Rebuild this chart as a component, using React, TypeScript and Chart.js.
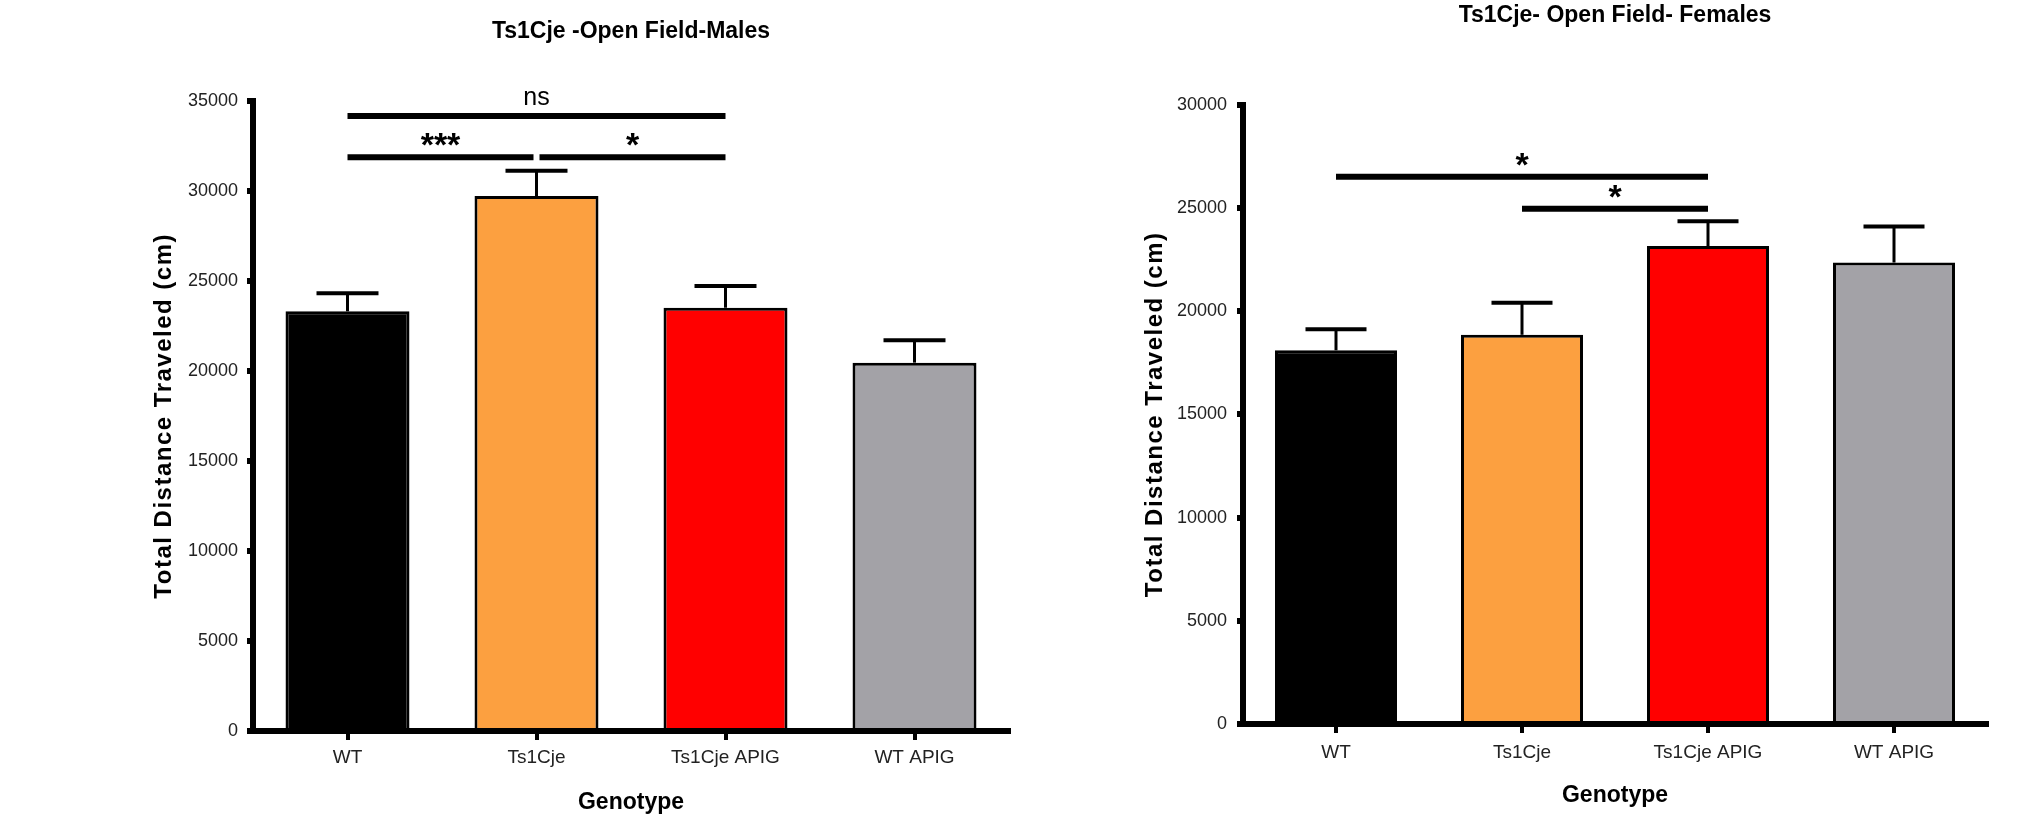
import React, { useEffect, useRef } from 'react';
import { Chart, registerables } from 'chart.js';

Chart.register(...registerables);

// ---------- data ----------
const categories = ['WT', 'Ts1Cje', 'Ts1Cje APIG', 'WT APIG'];
const barColors = ['#000000', '#FCA040', '#FF0000', '#A3A2A7'];

const malesTitle = 'Ts1Cje -Open Field-Males';
const malesMean = [23300, 29700, 23500, 20450];
const malesSem = [1000, 1400, 1200, 1250];
const malesTicksMax = 35000;
const malesSigFrom = [0, 0, 1];
const malesSigTo = [2, 1, 2];
const malesSigY = [34150, 31850, 31850];
const malesSigLabel = ['ns', '***', '*'];

const femalesTitle = 'Ts1Cje- Open Field- Females';
const femalesMean = [18100, 18850, 23150, 22350];
const femalesSem = [1020, 1550, 1200, 1750];
const femalesTicksMax = 30000;
const femalesSigFrom = [0, 1];
const femalesSigTo = [2, 2];
const femalesSigY = [26500, 24950];
const femalesSigLabel = ['*', '*'];

const yTickStep = 5000;
const xAxisTitle = 'Genotype';
const yAxisTitle = 'Total Distance Traveled (cm)';

const FONT = "'Liberation Sans', Arial, Helvetica, sans-serif";

// ---------- plugins ----------
const yTitleSpacingPlugin = {
  id: 'yTitleSpacing',
  beforeDraw(chart: any) {
    const s = chart.scales.y;
    if (!s || s.__spaced) return;
    const orig = s.drawTitle;
    s.drawTitle = function () {
      const ctx = this.ctx;
      ctx.save();
      try {
        (ctx as any).letterSpacing = '1.5px';
      } catch (e) {
        /* ignore */
      }
      orig.call(this);
      ctx.restore();
    };
    s.__spaced = true;
  },
};

const errorBarPlugin = {
  id: 'errorBars',
  afterDatasetsDraw(chart: any, _args: any, opts: any) {
    const errs: number[] = opts.errors || [];
    const ds = chart.data.datasets[0];
    const meta = chart.getDatasetMeta(0);
    const xs = chart.scales.x;
    const ys = chart.scales.y;
    const ctx = chart.ctx;
    ctx.save();
    ctx.strokeStyle = '#000';
    meta.data.forEach((bar: any, i: number) => {
      const cx = xs.getPixelForValue(i);
      const yTop = ys.getPixelForValue(ds.data[i]);
      const yCap = ys.getPixelForValue(ds.data[i] + errs[i]);
      const half = bar.width * 0.25;
      ctx.lineWidth = 3;
      ctx.beginPath();
      ctx.moveTo(cx, yTop);
      ctx.lineTo(cx, yCap);
      ctx.stroke();
      ctx.lineWidth = 4;
      ctx.beginPath();
      ctx.moveTo(cx - half, yCap);
      ctx.lineTo(cx + half, yCap);
      ctx.stroke();
    });
    ctx.restore();
  },
};

const sigPlugin = {
  id: 'sigLines',
  afterDatasetsDraw(chart: any, _args: any, opts: any) {
    const lines: any[] = opts.lines || [];
    const xs = chart.scales.x;
    const ys = chart.scales.y;
    const ctx = chart.ctx;
    const lw = 6;
    ctx.save();
    ctx.fillStyle = '#000';
    ctx.strokeStyle = '#000';
    lines.forEach((ln: any) => {
      let x1 = xs.getPixelForValue(ln.from);
      let x2 = xs.getPixelForValue(ln.to);
      const y = ys.getPixelForValue(ln.y);
      // leave a small gap where two lines at the same height meet
      lines.forEach((o: any) => {
        if (o === ln || o.y !== ln.y) return;
        if (o.to === ln.from) x1 += 3;
        if (o.from === ln.to) x2 -= 3;
      });
      ctx.lineWidth = lw;
      ctx.beginPath();
      ctx.moveTo(x1, y);
      ctx.lineTo(x2, y);
      ctx.stroke();
      const isStar = ln.label.indexOf('*') >= 0;
      ctx.font = isStar ? `bold 34px ${FONT}` : `25px ${FONT}`;
      ctx.textAlign = 'center';
      ctx.textBaseline = 'alphabetic';
      const m = ctx.measureText(ln.label);
      const base = y - lw / 2 - 8 - m.actualBoundingBoxDescent;
      ctx.fillText(ln.label, (x1 + x2) / 2, base);
    });
    ctx.restore();
  },
};

// ---------- chart config ----------
interface Panel {
  title: string;
  means: number[];
  sem: number[];
  max: number;
  sig: { from: number; to: number; y: number; label: string }[];
  padLeft: number;
  padRight: number;
  yWidth: number;
  titleTop: number;
  titleBottom: number;
  xHeight: number;
  xPad: number;
  xTitleBottom: number;
  yPad: number;
  yTickSize: number;
}

function buildSig(from: number[], to: number[], y: number[], label: string[]) {
  return from.map((f, i) => ({ from: f, to: to[i], y: y[i], label: label[i] }));
}

const malesPanel: Panel = {
  title: malesTitle,
  means: malesMean,
  sem: malesSem,
  max: malesTicksMax,
  sig: buildSig(malesSigFrom, malesSigTo, malesSigY, malesSigLabel),
  padLeft: 150,
  padRight: 7,
  yWidth: 103,
  titleTop: 18,
  titleBottom: 55,
  xHeight: 102,
  xPad: 6,
  xTitleBottom: 17,
  yPad: 9,
  yTickSize: 18,
};

const femalesPanel: Panel = {
  title: femalesTitle,
  means: femalesMean,
  sem: femalesSem,
  max: femalesTicksMax,
  sig: buildSig(femalesSigFrom, femalesSigTo, femalesSigY, femalesSigLabel),
  padLeft: 125,
  padRight: 45,
  yWidth: 102,
  titleTop: 2,
  titleBottom: 75,
  xHeight: 109,
  xPad: 8,
  xTitleBottom: 24,
  yPad: 10,
  yTickSize: 18,
};

function makeConfig(p: Panel): any {
  return {
    type: 'bar',
    data: {
      labels: categories,
      datasets: [
        {
          data: p.means,
          backgroundColor: barColors,
          borderColor: '#000',
          borderWidth: 3,
          categoryPercentage: 1,
          barPercentage: 0.656,
        },
      ],
    },
    options: {
      animation: false,
      responsive: false,
      events: [],
      layout: { padding: { left: p.padLeft, right: p.padRight, top: 0, bottom: 0 } },
      plugins: {
        legend: { display: false },
        tooltip: { enabled: false },
        title: {
          display: true,
          fullSize: false,
          text: p.title,
          color: '#000',
          font: { family: FONT, size: 23, weight: 'bold' },
          padding: { top: p.titleTop, bottom: p.titleBottom },
        },
        errorBars: { errors: p.sem },
        sigLines: { lines: p.sig },
      },
      scales: {
        x: {
          type: 'category',
          offset: true,
          grid: {
            display: true,
            drawOnChartArea: false,
            drawTicks: true,
            tickLength: 9,
            lineWidth: 4,
            color: '#000',
            offset: false,
          },
          border: { display: true, width: 6, color: '#000', z: 1 },
          ticks: {
            color: '#222',
            font: { family: FONT, size: 19 },
            padding: p.xPad,
            maxRotation: 0,
            autoSkip: false,
          },
          title: {
            display: true,
            text: xAxisTitle,
            color: '#000',
            font: { family: FONT, size: 23, weight: 'bold' },
            padding: { top: 0, bottom: p.xTitleBottom },
          },
          afterFit: (s: any) => {
            s.height = p.xHeight;
          },
        },
        y: {
          min: 0,
          max: p.max,
          grid: {
            display: true,
            drawOnChartArea: false,
            drawTicks: true,
            tickLength: 6,
            lineWidth: 6,
            color: '#000',
          },
          border: { display: true, width: 6, color: '#000', z: 1 },
          ticks: {
            stepSize: yTickStep,
            color: '#222',
            font: { family: FONT, size: p.yTickSize },
            padding: p.yPad,
            callback: (v: any) => String(v),
          },
          title: {
            display: true,
            text: yAxisTitle,
            color: '#000',
            font: { family: FONT, size: 24, weight: 'bold' },
            padding: 0,
          },
          afterFit: (s: any) => {
            s.width = p.yWidth;
          },
        },
      },
    },
    plugins: [yTitleSpacingPlugin, errorBarPlugin, sigPlugin],
  };
}

function BarPanel({ panel, left }: { panel: Panel; left: number }) {
  const ref = useRef<HTMLCanvasElement | null>(null);
  useEffect(() => {
    if (!ref.current) return;
    const chart = new Chart(ref.current, makeConfig(panel));
    return () => chart.destroy();
  }, [panel]);
  return (
    <canvas
      ref={ref}
      width={1016}
      height={833}
      style={{ position: 'absolute', left, top: 0 }}
    />
  );
}

export default function App() {
  return (
    <div
      style={{
        position: 'absolute',
        left: 0,
        top: 0,
        width: 2032,
        height: 833,
        background: '#fff',
        overflow: 'hidden',
      }}
    >
      <BarPanel panel={malesPanel} left={0} />
      <BarPanel panel={femalesPanel} left={1016} />
    </div>
  );
}
